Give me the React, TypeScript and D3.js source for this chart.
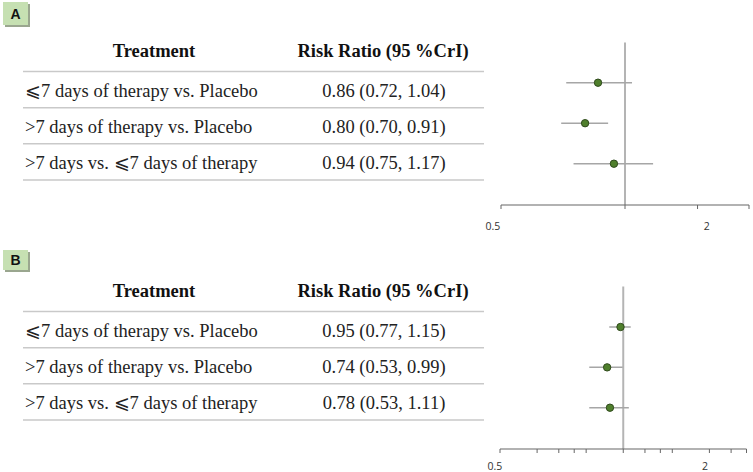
import React, { useEffect, useRef } from 'react'
import * as d3 from 'd3'

// comparisons (rows of each table)
const treatments = [
  '\u2A7D7 days of therapy vs. Placebo',
  '>7 days of therapy vs. Placebo',
  '>7 days vs. \u2A7D7 days of therapy',
]

// panel A values
const rrA = [0.86, 0.80, 0.94]
const lowA = [0.72, 0.70, 0.75]
const highA = [1.04, 0.91, 1.17]

// panel B values
const rrB = [0.95, 0.74, 0.78]
const lowB = [0.77, 0.53, 0.53]
const highB = [1.15, 0.99, 1.11]

// axis ticks, and where the two axis labels sit
const ticksA = [0.5, 1, 1.5, 2]
const ticksB = [0.1, 0.2, 0.3, 0.4, 0.5, 1, 1.5, 2, 2.5, 5, 7.5, 10]
const tickLabels = ['0.5', '2']
const labelAtA = [0.478, 1.58]
const labelAtB = [0.091, 4.6]

const serif = '"Liberation Serif", "Times New Roman", serif'

function drawPanel(svg: any, opts: any) {
  const g = svg.append('g').attr('transform', `translate(0,${opts.top})`)

  // panel letter box
  g.append('rect')
    .attr('x', 5).attr('y', opts.boxY + 2)
    .attr('width', 25).attr('height', opts.boxH)
    .attr('fill', '#9aa68f')
  g.append('rect')
    .attr('x', 3).attr('y', opts.boxY)
    .attr('width', 25).attr('height', opts.boxH)
    .attr('fill', '#c6e0b2')
  g.append('text')
    .attr('x', 15.5).attr('y', opts.boxY + opts.boxH / 2 + 5)
    .attr('text-anchor', 'middle')
    .attr('font-family', '"Liberation Sans", Arial, sans-serif')
    .attr('font-weight', 'bold')
    .attr('font-size', 14)
    .attr('fill', '#111')
    .text(opts.letter)

  // table
  const rowY = d3.scaleBand().domain(treatments).range([71.5, 180]).paddingInner(0)
  const bw = rowY.bandwidth()

  g.append('text')
    .attr('x', 154).attr('y', 57)
    .attr('text-anchor', 'middle')
    .attr('font-family', serif).attr('font-weight', 'bold').attr('font-size', 18.5)
    .attr('fill', '#111')
    .text('Treatment')
  g.append('text')
    .attr('x', 383).attr('y', 57)
    .attr('text-anchor', 'middle')
    .attr('font-family', serif).attr('font-weight', 'bold').attr('font-size', 18.5)
    .attr('fill', '#111')
    .text('Risk Ratio (95 %CrI)')

  const lines = [71.5].concat(treatments.map(t => (rowY(t) as number) + bw))
  g.selectAll('line.row')
    .data(lines).enter().append('line')
    .attr('class', 'row')
    .attr('x1', 23).attr('x2', 484)
    .attr('y1', d => d).attr('y2', d => d)
    .attr('stroke', '#c9c9c9').attr('stroke-width', 1.5)

  g.selectAll('text.name')
    .data(treatments).enter().append('text')
    .attr('class', 'name')
    .attr('x', 25)
    .attr('y', d => (rowY(d) as number) + bw / 2 + 7)
    .attr('font-family', serif).attr('font-size', 18.5)
    .attr('fill', '#222')
    .text(d => d)

  g.selectAll('text.val')
    .data(treatments).enter().append('text')
    .attr('class', 'val')
    .attr('x', 384)
    .attr('y', d => (rowY(d) as number) + bw / 2 + 7)
    .attr('text-anchor', 'middle')
    .attr('font-family', serif).attr('font-size', 18.5)
    .attr('fill', '#222')
    .text((d, i) => `${opts.rr[i].toFixed(2)} (${opts.low[i].toFixed(2)}, ${opts.high[i].toFixed(2)})`)

  // forest plot
  const x = d3.scaleLog().domain(opts.domain).range(opts.range)
  const y = d3.scalePoint().domain(treatments).range(opts.pointRange)

  g.append('line')
    .attr('x1', x(1)).attr('x2', x(1))
    .attr('y1', opts.refTop).attr('y2', opts.axisY)
    .attr('stroke', '#b4b4b4').attr('stroke-width', 2)

  g.append('line')
    .attr('x1', opts.range[0]).attr('x2', opts.range[1])
    .attr('y1', opts.axisY).attr('y2', opts.axisY)
    .attr('stroke', '#666').attr('stroke-width', 1.2)
  g.selectAll('line.tick')
    .data(opts.ticks).enter().append('line')
    .attr('class', 'tick')
    .attr('x1', d => x(d)).attr('x2', d => x(d))
    .attr('y1', opts.axisY).attr('y2', opts.axisY + 4)
    .attr('stroke', '#666').attr('stroke-width', 1)
  g.selectAll('text.tl')
    .data(tickLabels).enter().append('text')
    .attr('class', 'tl')
    .attr('x', (d, i) => x(opts.labelAt[i]))
    .attr('y', 229.5)
    .attr('text-anchor', 'middle')
    .attr('font-family', '"Open Sans", "Liberation Sans", sans-serif')
    .attr('font-size', 10.5)
    .attr('fill', '#333')
    .text(d => d)

  g.selectAll('line.ci')
    .data(treatments).enter().append('line')
    .attr('class', 'ci')
    .attr('x1', (d, i) => x(opts.low[i])).attr('x2', (d, i) => x(opts.high[i]))
    .attr('y1', d => y(d)).attr('y2', d => y(d))
    .attr('stroke', '#a6a6a6').attr('stroke-width', 1.5)

  g.selectAll('circle.pt')
    .data(treatments).enter().append('circle')
    .attr('class', 'pt')
    .attr('cx', (d, i) => x(opts.rr[i]))
    .attr('cy', d => y(d))
    .attr('r', 3.7)
    .attr('fill', '#4f7f2c')
    .attr('stroke', '#2f4a1c').attr('stroke-width', 1)
}

export default function App() {
  const ref = useRef<SVGSVGElement>(null)

  useEffect(() => {
    const svg = d3.select(ref.current)
    svg.selectAll('*').remove()

    drawPanel(svg, {
      top: 0, letter: 'A', boxY: 2, boxH: 23,
      rr: rrA, low: lowA, high: highA,
      domain: [0.5, 2], range: [501, 749], ticks: ticksA, labelAt: labelAtA,
      pointRange: [82.7, 163.7], refTop: 42.5, axisY: 205,
    })
    drawPanel(svg, {
      top: 240, letter: 'B', boxY: 10, boxH: 20,
      rr: rrB, low: lowB, high: highB,
      domain: [0.1, 10], range: [500, 746.5], ticks: ticksB, labelAt: labelAtB,
      pointRange: [87, 167.7], refTop: 46.5, axisY: 209,
    })
  }, [])

  return (
    <svg ref={ref} width={753} height={472}
      style={{ position: 'absolute', left: 0, top: 0, background: '#fff' }} />
  )
}
